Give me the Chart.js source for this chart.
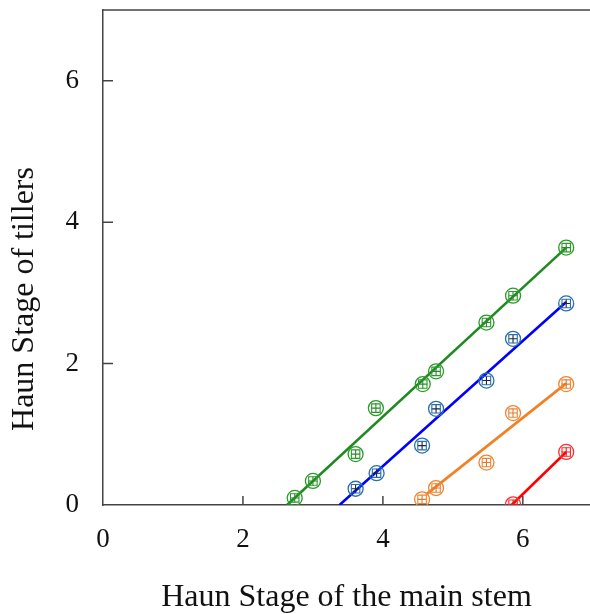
<!DOCTYPE html>
<html><head><meta charset="utf-8">
<script src="https://cdn.jsdelivr.net/npm/chart.js@4"></script>
<style>html,body{margin:0;padding:0;background:#fff}#w{width:590px;height:614px}</style>
</head><body><div id="w"><canvas id="c" width="590" height="614"></canvas></div>
<script>
// tick labels
const xTicks = [0, 2, 4, 6];
const yTicks = [0, 2, 4, 6];
const xTitle = 'Haun Stage of the main stem';
const yTitle = 'Haun Stage of tillers';
// observed points (Haun stage of main stem vs tillers)
const greenX  = [2.74, 3.00, 3.61, 3.90, 4.57, 4.76, 5.48, 5.86, 6.62];
const greenY  = [0.10, 0.34, 0.72, 1.37, 1.71, 1.89, 2.58, 2.96, 3.64];
const blueX   = [3.61, 3.91, 4.56, 4.76, 5.48, 5.86, 6.62];
const blueY   = [0.23, 0.45, 0.84, 1.36, 1.76, 2.35, 2.85];
const orangeX = [4.56, 4.76, 5.48, 5.86, 6.62];
const orangeY = [0.08, 0.24, 0.60, 1.30, 1.71];
const redX    = [5.86, 6.62];
const redY    = [0.01, 0.75];
// fitted regression lines (end points)
const greenFitX  = [2.63, 6.62], greenFitY  = [0, 3.64];
const blueFitX   = [3.38, 6.62], blueFitY   = [0, 2.87];
const orangeFitX = [4.62, 6.62], orangeFitY = [0.15, 1.72];
const redFitX    = [5.84, 6.62], redFitY    = [0, 0.75];

const pts = (xs, ys) => xs.map((x, i) => ({x, y: ys[i]}));

const series = [
  {x: greenX, y: greenY, fx: greenFitX, fy: greenFitY, line: '#1f8a1f', mark: '#2a9a2a', bar: '#2a8a2a'},
  {x: blueX, y: blueY, fx: blueFitX, fy: blueFitY, line: '#0000ff', mark: '#2a6fa8', bar: '#1a2440'},
  {x: orangeX, y: orangeY, fx: orangeFitX, fy: orangeFitY, line: '#f28024', mark: '#f08432', bar: '#e07a2a'},
  {x: redX, y: redY, fx: redFitX, fy: redFitY, line: '#ff0000', mark: '#ff2a2a', bar: '#e02020'}
];

const datasets = [];
series.forEach(s => {
  datasets.push({data: pts(s.fx, s.fy), showLine: true, borderColor: s.line, borderWidth: 2.6, pointRadius: 0, order: 2});
  datasets.push({data: pts(s.x, s.y), showLine: false, pointStyle: 'circle', pointRadius: 7.5, pointBorderWidth: 1.3, pointBorderColor: s.mark, pointBackgroundColor: 'rgba(255,255,255,0)', order: 1});
  datasets.push({data: pts(s.x, s.y), showLine: false, pointStyle: 'rect', pointRadius: 6, pointBorderWidth: 1.1, pointBorderColor: s.mark, pointBackgroundColor: 'rgba(255,255,255,0)', order: 1});
  datasets.push({data: pts(s.x, s.y), showLine: false, pointStyle: 'cross', pointRadius: 4.5, pointBorderWidth: 1.1, pointBorderColor: s.bar, order: 1});
});

const axisColor = '#444';
const frame = {
  id: 'frame',
  afterDraw(chart) {
    const {ctx, chartArea: a, scales} = chart;
    ctx.save();
    ctx.strokeStyle = axisColor;
    ctx.lineWidth = 1.5;
    ctx.beginPath();
    ctx.moveTo(a.left, a.top); ctx.lineTo(a.right, a.top);
    yTicks.forEach(v => { if (v === 0) return; const p = scales.y.getPixelForValue(v); ctx.moveTo(a.left, p); ctx.lineTo(a.left + 10, p); });
    xTicks.forEach(v => { if (v === 0) return; const p = scales.x.getPixelForValue(v); ctx.moveTo(p, a.bottom); ctx.lineTo(p, a.bottom - 9); });
    ctx.stroke();
    // y axis title, centred on the figure height as in the reference
    ctx.fillStyle = '#111';
    ctx.font = '32px "Liberation Serif"';
    ctx.textAlign = 'center';
    ctx.textBaseline = 'middle';
    ctx.translate(25, chart.height / 2 - 8);
    ctx.rotate(-Math.PI / 2);
    ctx.fillText(yTitle, 0, 0);
    ctx.restore();
  }
};

const tickFont = {family: 'Liberation Serif', size: 27};
const titleFont = {family: 'Liberation Serif', size: 32};
const noPad = s => { s.paddingTop = 0; s.paddingBottom = 0; s.paddingLeft = 0; s.paddingRight = 0; };

new Chart(document.getElementById('c'), {
  type: 'scatter',
  data: {datasets},
  plugins: [frame],
  options: {
    responsive: false,
    animation: false,
    layout: {autoPadding: false, padding: {top: 10, right: 0, left: 0, bottom: 0}},
    plugins: {legend: {display: false}, tooltip: {enabled: false}},
    scales: {
      x: {
        type: 'linear', min: 0, max: 6.96,
        afterBuildTicks: s => { s.ticks = xTicks.map(v => ({value: v})); },
        afterFit: s => { s.height = 109; noPad(s); },
        grid: {display: false, drawTicks: false},
        border: {display: true, color: axisColor, width: 1.5},
        ticks: {font: tickFont, color: '#111', padding: 19, maxRotation: 0, autoSkip: false, callback: v => String(v)},
        title: {display: true, text: xTitle, font: titleFont, color: '#111', padding: {top: 0, bottom: -3}}
      },
      y: {
        type: 'linear', min: 0, max: 7.0,
        afterBuildTicks: s => { s.ticks = yTicks.map(v => ({value: v})); },
        afterFit: s => { s.width = 103; noPad(s); },
        grid: {display: false, drawTicks: false},
        border: {display: true, color: axisColor, width: 1.5},
        ticks: {font: tickFont, color: '#111', padding: 24, autoSkip: false, callback: v => String(v)},
        title: {display: false}
      }
    }
  }
});
</script>
</body></html>
